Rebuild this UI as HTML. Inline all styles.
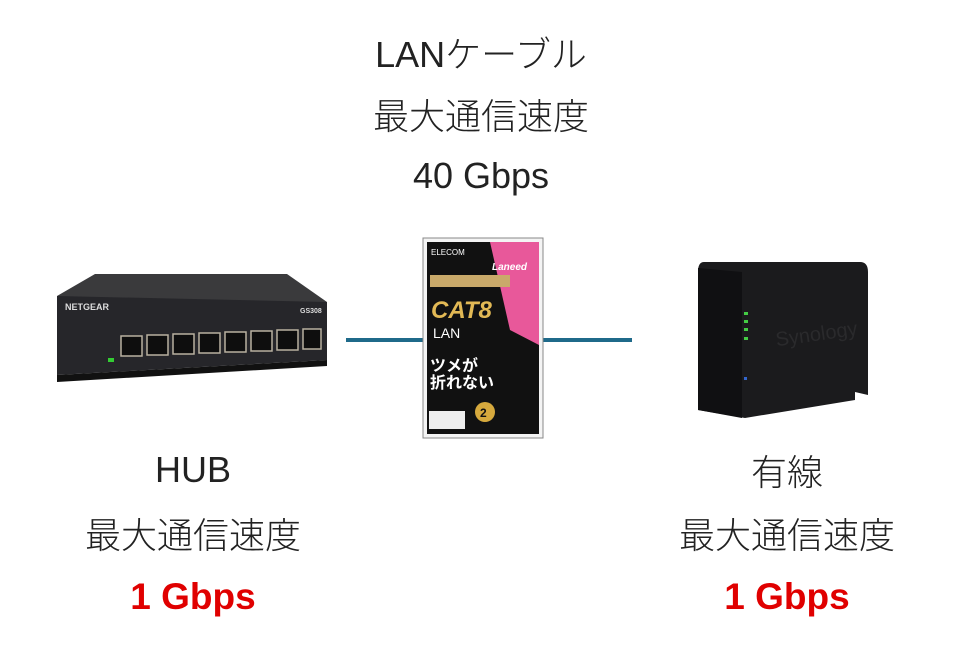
<!DOCTYPE html>
<html><head><meta charset="utf-8"><style>
body{margin:0;width:965px;height:659px;background:#fff;overflow:hidden;position:relative;font-family:"Liberation Sans","Noto Sans CJK JP",sans-serif;}
.t{position:absolute;transform:translate(-50%,-50%);font-size:36px;color:#222;white-space:nowrap;font-weight:300;}
.r{color:#e00000;font-weight:bold;font-size:37px;}
</style></head><body>
<svg width="965" height="659" style="position:absolute;left:0;top:0">
<line x1="346" y1="340" x2="425" y2="340" stroke="#1f6a8a" stroke-width="4"/>
<line x1="543" y1="340" x2="632" y2="340" stroke="#1f6a8a" stroke-width="4"/>
<polygon points="57,296 95,274 287,274 327,302 327,322 57,322" fill="#3a3a3c"/>
<polygon points="57,296 327,302 327,360 57,375" fill="#26262a"/>
<polygon points="57,375 327,360 327,366 57,382" fill="#111"/>
<text x="65" y="310" font-size="9" fill="#ddd" font-family="Liberation Sans" font-weight="bold">NETGEAR</text>
<text x="300" y="313" font-size="7" fill="#ddd" font-family="Liberation Sans" font-weight="bold">GS308</text>
<g fill="#0e0e0e" stroke="#b8b0a0" stroke-width="1.5">
<rect x="121" y="336" width="21" height="20"/><rect x="147" y="335" width="21" height="20"/><rect x="173" y="334" width="21" height="20"/><rect x="199" y="333" width="21" height="20"/>
<rect x="225" y="332" width="21" height="20"/><rect x="251" y="331" width="21" height="20"/><rect x="277" y="330" width="21" height="20"/><rect x="303" y="329" width="18" height="20"/>
</g>
<rect x="108" y="358" width="6" height="4" fill="#3c3"/>
<rect x="423" y="238" width="120" height="200" fill="#f4f4f4" stroke="#888" stroke-width="1"/>
<rect x="427" y="242" width="112" height="192" fill="#111"/>
<polygon points="490,242 539,242 539,345 510,330" fill="#e8589a"/>
<text x="431" y="255" font-size="8" fill="#fff" font-family="Liberation Sans">ELECOM</text>
<text x="492" y="270" font-size="10" fill="#fff" font-style="italic" font-weight="bold" font-family="Liberation Sans">Laneed</text>
<rect x="430" y="275" width="80" height="12" fill="#c9a96a"/>
<text x="431" y="318" font-size="24" fill="#e2b955" font-weight="bold" font-style="italic" font-family="Liberation Sans">CAT8</text>
<text x="433" y="338" font-size="14" fill="#fff" font-family="Liberation Sans">LAN</text>
<text x="430" y="371" font-size="16" fill="#fff" font-weight="bold" font-family="Noto Sans CJK JP">ツメが</text>
<text x="430" y="388" font-size="16" fill="#fff" font-weight="bold" font-family="Noto Sans CJK JP">折れない</text>
<circle cx="485" cy="412" r="10" fill="#d6a93d"/>
<text x="480" y="417" font-size="12" fill="#111" font-weight="bold" font-family="Liberation Sans">2</text>
<rect x="429" y="411" width="36" height="18" fill="#eee"/>
<path d="M704,262 L860,262 Q868,262 868,272 L868,395 L855,392 L855,400 L745,418 L698,410 L698,272 Q698,262 704,262Z" fill="#1b1b1d"/>
<polygon points="698,268 742,272 742,418 698,410" fill="#101012"/>
<g fill="#4c4"><rect x="744" y="312" width="4" height="3"/><rect x="744" y="320" width="4" height="3"/><rect x="744" y="328" width="4" height="3"/><rect x="744" y="337" width="4" height="3"/></g>
<rect x="744" y="377" width="3" height="3" fill="#36c"/>
<text x="776" y="343" font-size="20" fill="#2a2a2c" font-family="Liberation Sans" transform="rotate(-8 800 340)">Synology</text>
</svg>
<div class="t" style="left:481px;top:52px">LANケーブル</div>
<div class="t" style="left:481px;top:114px">最大通信速度</div>
<div class="t" style="left:481px;top:176px">40 Gbps</div>
<div class="t" style="left:193px;top:470px">HUB</div>
<div class="t" style="left:193px;top:533px">最大通信速度</div>
<div class="t r" style="left:193px;top:597px">1 Gbps</div>
<div class="t" style="left:787px;top:470px">有線</div>
<div class="t" style="left:787px;top:533px">最大通信速度</div>
<div class="t r" style="left:787px;top:597px">1 Gbps</div>
</body></html>
